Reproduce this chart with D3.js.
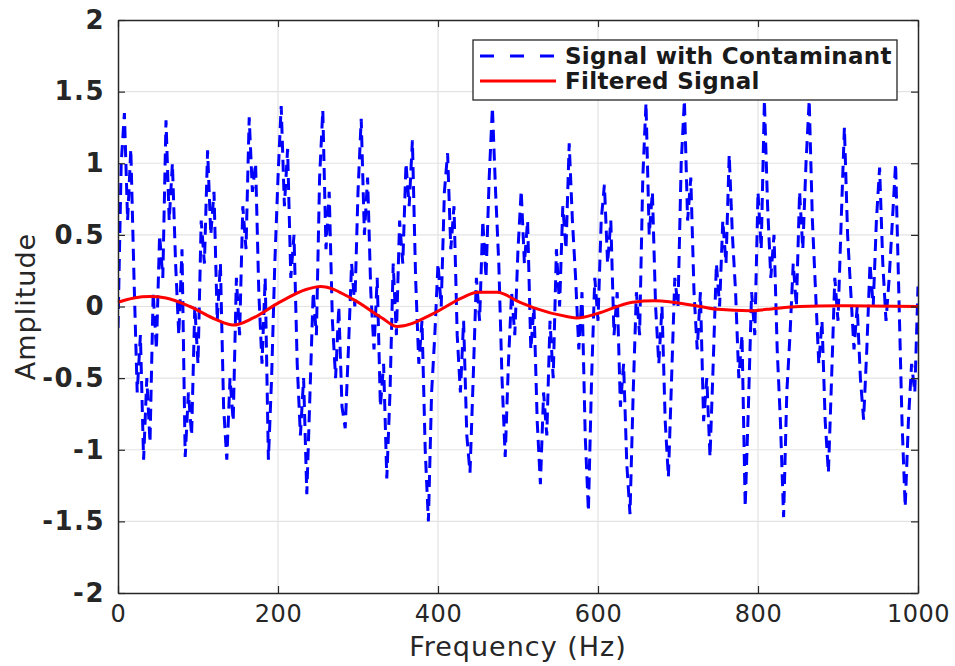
<!DOCTYPE html>
<html>
<head>
<meta charset="utf-8">
<script src="https://cdn.jsdelivr.net/npm/d3@7"></script>
<style>
  body { margin: 0; background: #fff; }
  svg { display: block; }
  .tick-y text { font-family: "DejaVu Sans", sans-serif; font-weight: bold; font-size: 26px; letter-spacing: 1.5px; fill: #262626; }
  .tick-x text { font-family: "DejaVu Sans", sans-serif; font-size: 24px; letter-spacing: 0.5px; fill: #262626; }
  .label { font-family: "DejaVu Sans", sans-serif; font-size: 27px; letter-spacing: 1px; fill: #262626; }
  .legend text { font-family: "DejaVu Sans", sans-serif; font-weight: bold; font-size: 23px; letter-spacing: 0.3px; fill: #1a1a1a; }
</style>
</head>
<body>
<svg id="chart" width="955" height="666"></svg>
<script>
// blue signal, one sample every 4 Hz from 0 to 1000
var sampleStep = 4;
var signalAmp = [
  -0.15, 1.0, 1.35, 0.6, 1.1, 0.2, -0.6, -0.2, -1.07, -0.5,
  -0.95, 0.1, -0.3, 0.5, 0.2, 1.3, 0.6, 1.0, 0.3, -0.2,
  0.4, -1.05, -0.6, -0.9, 0.0, -0.4, 0.6, 0.3, 1.09, 0.5,
  0.8, -0.1, 0.3, -0.7, -1.07, -0.5, -0.8, 0.2, -0.2, 0.7,
  0.4, 1.32, 0.8, 1.0, 0.1, -0.4, 0.2, -1.07, -0.5, 0.3,
  0.9, 1.4, 0.7, 1.1, 0.2, 0.5, -0.4, -0.9, -0.5, -1.31,
  -0.6, 0.1, -0.2, 0.9, 1.37, 0.4, 0.8, -0.1, -0.5, 0.0,
  -0.7, -0.85, -0.3, 0.3, 0.0, 0.8, 1.31, 0.5, 0.9, 0.1,
  -0.3, 0.2, -0.7, -0.4, -1.2, -0.6, 0.3, -0.2, 0.6, 0.3,
  1.0, 0.7, 1.16, 0.2, -0.4, -0.1, -1.0, -1.5, -0.6, -0.2,
  0.3, 0.0, 0.8, 1.07, 0.4, 0.7, -0.2, -0.6, -0.1, -0.9,
  -1.16, -0.5, 0.2, -0.1, 0.6, 0.2, 0.9, 1.39, 0.8, 0.3,
  -0.5, -1.05, -0.4, 0.1, -0.2, 0.4, 0.81, 0.3, 0.6, -0.3,
  0.0, -0.8, -1.24, -0.6, -0.9, -0.1, -0.5, 0.4, 0.0, 0.7,
  0.4, 1.14, 0.6, 0.2, -0.3, 0.1, -0.9, -1.43, -0.5, 0.2,
  -0.1, 0.6, 0.85, 0.3, 0.6, -0.2, 0.1, -0.7, -0.4, -1.1,
  -1.45, -0.6, 0.1, -0.2, 0.9, 1.42, 0.5, 0.8, 0.0, -0.4,
  0.0, -0.8, -1.19, -0.5, 0.2, 0.0, 1.0, 1.44, 0.6, 0.9,
  0.1, -0.3, 0.1, -0.8, -0.5, -1.05, -0.4, 0.3, 0.0, 0.6,
  0.3, 1.06, 0.5, 0.1, -0.5, -0.2, -1.4, -0.7, 0.1, -0.2,
  0.8, 0.4, 1.44, 0.7, 0.2, 0.5, -0.3, -0.8, -1.47, -0.6,
  -0.2, 0.3, 0.0, 0.8, 0.4, 1.0, 1.44, 0.6, 0.1, -0.4,
  -0.1, -0.8, -1.16, -0.5, 0.2, -0.1, 0.6, 1.25, 0.5, 0.1,
  -0.3, 0.0, -0.5, -0.79, -0.3, 0.3, 0.0, 0.6, 0.97, 0.3,
  -0.1, 0.2, 0.6, 1.0, 0.1, -0.8, -1.4, -0.8, -0.4, -0.6,
  0.14
];

// red filtered signal
var filteredFreq = [0, 20, 40, 60, 90, 122, 144, 169, 199, 236, 253, 294, 330, 349, 394, 430, 449, 474, 502, 520, 561, 574, 599, 643, 671, 728, 750, 790, 811, 852, 900, 1000];
var filteredAmp  = [0.03, 0.06, 0.07, 0.06, 0.0, -0.09, -0.13, -0.08, 0.02, 0.12, 0.14, 0.05, -0.08, -0.14, -0.05, 0.06, 0.10, 0.10, 0.03, -0.01, -0.07, -0.08, -0.05, 0.03, 0.04, 0.0, -0.02, -0.03, -0.02, 0.0, 0.005, 0.0];

var xTicks = [0, 200, 400, 600, 800, 1000];
var yTicks = [-2, -1.5, -1, -0.5, 0, 0.5, 1, 1.5, 2];
var seriesNames = ["Signal with Contaminant", "Filtered Signal"];

function draw() {
  var svg = d3.select("#chart"),
      pl = 118, pr = 918, pt = 20, pb = 593;

  var x = d3.scaleLinear().domain([0, 1000]).range([pl, pr]);
  var y = d3.scaleLinear().domain([-2, 2]).range([pb, pt]);

  // grid
  svg.append("g")
    .selectAll("line")
    .data(xTicks.slice(1, -1))
    .join("line")
    .attr("x1", d => x(d)).attr("x2", d => x(d))
    .attr("y1", pt).attr("y2", pb)
    .attr("stroke", "#e3e3e3").attr("stroke-width", 1.2);

  svg.append("g")
    .selectAll("line")
    .data(yTicks.slice(1, -1))
    .join("line")
    .attr("x1", pl).attr("x2", pr)
    .attr("y1", d => y(d)).attr("y2", d => y(d))
    .attr("stroke", "#e3e3e3").attr("stroke-width", 1.2);

  svg.append("clipPath").attr("id", "plot-clip")
    .append("rect")
    .attr("x", pl).attr("y", pt)
    .attr("width", pr - pl).attr("height", pb - pt);

  var signalLine = d3.line()
    .x((d, i) => x(i * sampleStep))
    .y(d => y(d));

  svg.append("path")
    .datum(signalAmp)
    .attr("clip-path", "url(#plot-clip)")
    .attr("fill", "none")
    .attr("stroke", "#0000ff")
    .attr("stroke-width", 3)
    .attr("stroke-dasharray", "12,7")
    .attr("d", signalLine);

  var filteredLine = d3.line()
    .x((d, i) => x(filteredFreq[i]))
    .y(d => y(d))
    .curve(d3.curveMonotoneX);

  svg.append("path")
    .datum(filteredAmp)
    .attr("fill", "none")
    .attr("stroke", "#ff0000")
    .attr("stroke-width", 3)
    .attr("d", filteredLine);

  // axes, ticks point inward like the original
  var fmt = d => String(d);

  svg.append("g")
    .attr("class", "tick-x")
    .attr("transform", "translate(0," + pb + ")")
    .call(d3.axisBottom(x).tickValues(xTicks).tickFormat(fmt).tickSizeInner(-7).tickSizeOuter(0).tickPadding(12));

  svg.append("g")
    .attr("transform", "translate(0," + pt + ")")
    .call(d3.axisTop(x).tickValues(xTicks).tickFormat("").tickSizeInner(-7).tickSizeOuter(0));

  svg.append("g")
    .attr("class", "tick-y")
    .attr("transform", "translate(" + pl + ",0)")
    .call(d3.axisLeft(y).tickValues(yTicks).tickFormat(fmt).tickSizeInner(-7).tickSizeOuter(0).tickPadding(13));

  svg.append("g")
    .attr("transform", "translate(" + pr + ",0)")
    .call(d3.axisRight(y).tickValues(yTicks).tickFormat("").tickSizeInner(-7).tickSizeOuter(0));

  svg.selectAll(".domain").attr("stroke", "#262626").attr("stroke-width", 1.5);
  svg.selectAll(".tick line").attr("stroke", "#262626").attr("stroke-width", 1.2);
  svg.selectAll(".tick text").attr("font-family", null).attr("font-size", null);

  svg.append("text")
    .attr("class", "label")
    .attr("x", (pl + pr) / 2)
    .attr("y", 656)
    .attr("text-anchor", "middle")
    .text("Frequency (Hz)");

  svg.append("text")
    .attr("class", "label")
    .attr("transform", "translate(35," + (pt + pb) / 2 + ") rotate(-90)")
    .attr("text-anchor", "middle")
    .text("Amplitude");

  // legend
  var legend = svg.append("g").attr("class", "legend");

  legend.append("rect")
    .attr("x", 473).attr("y", 40)
    .attr("width", 424).attr("height", 60)
    .attr("fill", "#fff")
    .attr("stroke", "#262626")
    .attr("stroke-width", 1.3);

  legend.append("line")
    .attr("x1", 480).attr("x2", 556)
    .attr("y1", 56).attr("y2", 56)
    .attr("stroke", "#0000ff").attr("stroke-width", 3)
    .attr("stroke-dasharray", "14,16");

  legend.append("line")
    .attr("x1", 480).attr("x2", 556)
    .attr("y1", 81).attr("y2", 81)
    .attr("stroke", "#ff0000").attr("stroke-width", 3);

  legend.selectAll("text")
    .data(seriesNames)
    .join("text")
    .attr("x", 565)
    .attr("y", (d, i) => 64 + i * 25)
    .text(d => d);
}

draw();
</script>
</body>
</html>
